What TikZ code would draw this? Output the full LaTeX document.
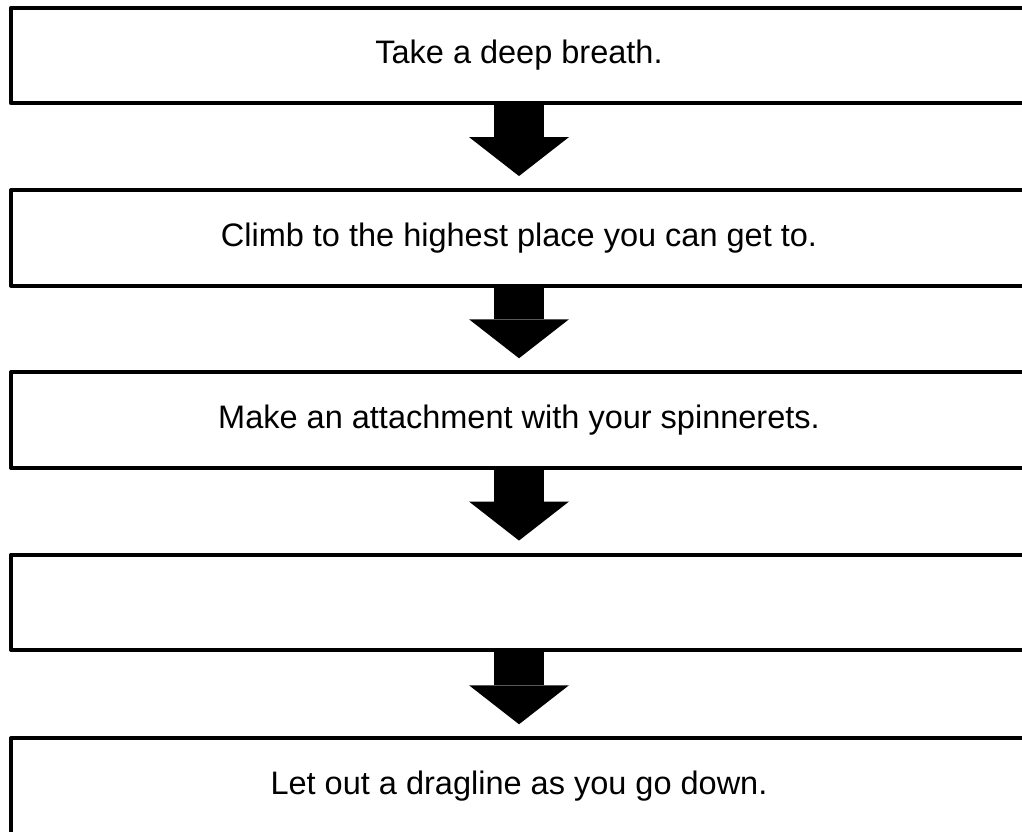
\documentclass[tikz,border=0pt]{standalone}
\usepackage{fontspec}
\setmainfont{Liberation Sans}
\usetikzlibrary{arrows.meta}
\tikzset{
  stepbox/.style={draw=black, line width=4pt, line join=round, fill=white,
    rectangle, minimum width=1016pt, minimum height=95.5pt, inner sep=0pt,
    font=\fontsize{32.5}{38}\selectfont, text=black},
  blockarrow/.style={line width=50pt, draw=black, shorten >=12pt,
    -{Triangle[width=100pt,length=39pt,line width=0pt]}}
}
\begin{document}
\begin{tikzpicture}[x=1pt,y=-1pt]
\useasboundingbox (0,0) rectangle (1022,831);
\clip (0,0) rectangle (1022,831);
\fill[white] (0,0) rectangle (1022,831);
\node[stepbox] (b1) at (519,55.5) {Take a deep breath.};
\node[stepbox] (b2) at (519,237.8) {Climb to the highest place you can get to.};
\node[stepbox] (b3) at (519,420) {Make an attachment with your spinnerets.};
\node[stepbox] (b4) at (519,602.3) {};
\node[stepbox] (b5) at (519,786) {Let out a dragline as you go down.};
\draw[blockarrow] (b1) -- (b2);
\draw[blockarrow] (b2) -- (b3);
\draw[blockarrow] (b3) -- (b4);
\draw[blockarrow] (b4) -- (b5);
\end{tikzpicture}
\end{document}
